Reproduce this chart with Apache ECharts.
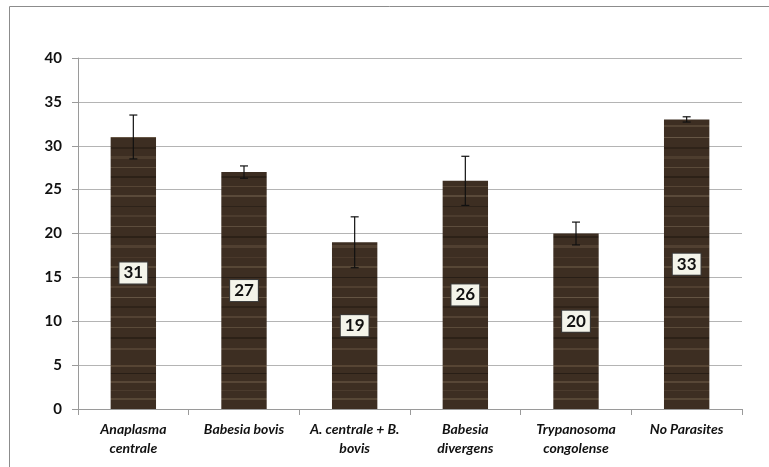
<!DOCTYPE html>
<html>
<head>
<meta charset="utf-8">
<script src="https://cdn.jsdelivr.net/npm/echarts@6/dist/echarts.min.js"></script>
<style>
	html, body { margin: 0; padding: 0; background: #fff; }
	#chart { width: 769px; height: 467px; }
</style>
</head>
<body>
<div id="chart"></div>
<script>
	// categories and values
	const categories = ['Anaplasma\ncentrale', 'Babesia bovis', 'A. centrale + B.\nbovis', 'Babesia\ndivergens', 'Trypanosoma\ncongolense', 'No Parasites']
	const values = [31, 27, 19, 26, 20, 33]
	const errors = [2.5, 0.7, 2.9, 2.8, 1.3, 0.3]
	const yTicks = [0, 5, 10, 15, 20, 25, 30, 35, 40]

	// wood-like texture for the bars (fixed stripe list, style only)
	function woodPattern() {
		const c = document.createElement('canvas')
		c.width = 40
		c.height = 360
		const ctx = c.getContext('2d')
		ctx.fillStyle = '#3d2e22'
		ctx.fillRect(0, 0, c.width, c.height)
		const stripes = [
			[5, 2, 'rgba(120,98,76,0.45)'], [13, 1, 'rgba(20,14,10,0.5)'], [21, 2, 'rgba(140,118,94,0.35)'],
			[30, 1, 'rgba(90,72,56,0.5)'], [38, 2, 'rgba(150,128,104,0.3)'], [49, 1, 'rgba(20,14,10,0.45)'],
			[57, 2, 'rgba(110,90,70,0.4)'], [67, 3, 'rgba(160,140,116,0.3)'], [78, 1, 'rgba(25,18,12,0.5)'],
			[86, 2, 'rgba(120,98,76,0.35)'], [97, 1, 'rgba(170,150,126,0.3)'], [107, 2, 'rgba(90,72,56,0.45)'],
			[117, 1, 'rgba(20,14,10,0.5)'], [125, 2, 'rgba(130,108,86,0.35)'], [137, 1, 'rgba(180,160,136,0.35)'],
			[147, 2, 'rgba(30,22,15,0.45)'], [156, 3, 'rgba(110,90,70,0.35)'], [167, 1, 'rgba(150,128,104,0.35)'],
			[176, 2, 'rgba(25,18,12,0.45)'], [186, 1, 'rgba(125,104,82,0.4)'], [195, 2, 'rgba(160,140,116,0.3)'],
			[206, 1, 'rgba(30,22,15,0.5)'], [215, 2, 'rgba(100,82,64,0.4)'], [226, 1, 'rgba(170,150,126,0.3)'],
			[236, 2, 'rgba(25,18,12,0.45)'], [245, 3, 'rgba(120,98,76,0.35)'], [257, 1, 'rgba(90,72,56,0.45)'],
			[266, 2, 'rgba(150,128,104,0.3)'], [277, 1, 'rgba(20,14,10,0.5)'], [286, 2, 'rgba(110,90,70,0.4)'],
			[297, 1, 'rgba(175,155,130,0.35)'], [306, 2, 'rgba(30,22,15,0.45)'], [316, 2, 'rgba(125,104,82,0.35)'],
			[327, 1, 'rgba(150,128,104,0.35)'], [337, 2, 'rgba(25,18,12,0.45)'], [348, 2, 'rgba(115,94,74,0.4)']
		]
		stripes.forEach(([y, h, col]) => {
			ctx.fillStyle = col
			ctx.fillRect(0, y, c.width, h)
		})
		return c
	}

	const chart = echarts.init(document.getElementById('chart'), null, { renderer: 'canvas' })

	const errData = values.map((v, i) => [i, v - errors[i], v + errors[i]])

	chart.setOption({
		animation: false,
		textStyle: { fontFamily: 'Lato, "Open Sans", sans-serif' },
		grid: { left: 78, right: 27, top: 58, bottom: 58 },
		graphic: [{
			type: 'rect',
			shape: { x: 9.5, y: 6.5, width: 800, height: 500 },
			style: { fill: 'none', stroke: '#8c8c8c', lineWidth: 1 },
			silent: true
		}],
		xAxis: {
			type: 'category',
			data: categories,
			axisLine: { lineStyle: { color: '#9a9a9a' } },
			axisTick: { show: true, length: 6, lineStyle: { color: '#9a9a9a' } },
			axisLabel: {
				color: '#111',
				fontSize: 14,
				fontStyle: 'italic',
				fontWeight: 'bold',
				lineHeight: 19,
				margin: 11,
				interval: 0
			}
		},
		yAxis: {
			type: 'value',
			min: 0,
			max: yTicks[yTicks.length - 1],
			interval: 5,
			axisLine: { show: true, lineStyle: { color: '#9a9a9a' } },
			axisTick: { show: true, length: 6, lineStyle: { color: '#9a9a9a' } },
			axisLabel: { color: '#111', fontSize: 15, fontWeight: 'bold', margin: 16 },
			splitLine: { lineStyle: { color: '#b4b4b4' } }
		},
		series: [{
			type: 'bar',
			data: values,
			barWidth: '41%',
			itemStyle: {
				color: { image: woodPattern(), repeat: 'repeat' }
			},
			label: {
				show: true,
				position: 'inside',
				color: '#111',
				fontSize: 17,
				fontWeight: 'bold',
				backgroundColor: '#f4f4ea',
				borderColor: '#3a3a3a',
				borderWidth: 1,
				padding: [3, 4, 1, 4]
			}
		}, {
			type: 'custom',
			data: errData,
			z: 10,
			renderItem(params, api) {
				const x = api.value(0)
				const lo = api.coord([x, api.value(1)])
				const hi = api.coord([x, api.value(2)])
				const cap = 4
				const style = { stroke: '#111', lineWidth: 1.2 }
				return {
					type: 'group',
					children: [
						{ type: 'line', shape: { x1: hi[0], y1: hi[1], x2: lo[0], y2: lo[1] }, style },
						{ type: 'line', shape: { x1: hi[0] - cap, y1: hi[1], x2: hi[0] + cap, y2: hi[1] }, style },
						{ type: 'line', shape: { x1: lo[0] - cap, y1: lo[1], x2: lo[0] + cap, y2: lo[1] }, style }
					]
				}
			}
		}]
	})
</script>
</body>
</html>
